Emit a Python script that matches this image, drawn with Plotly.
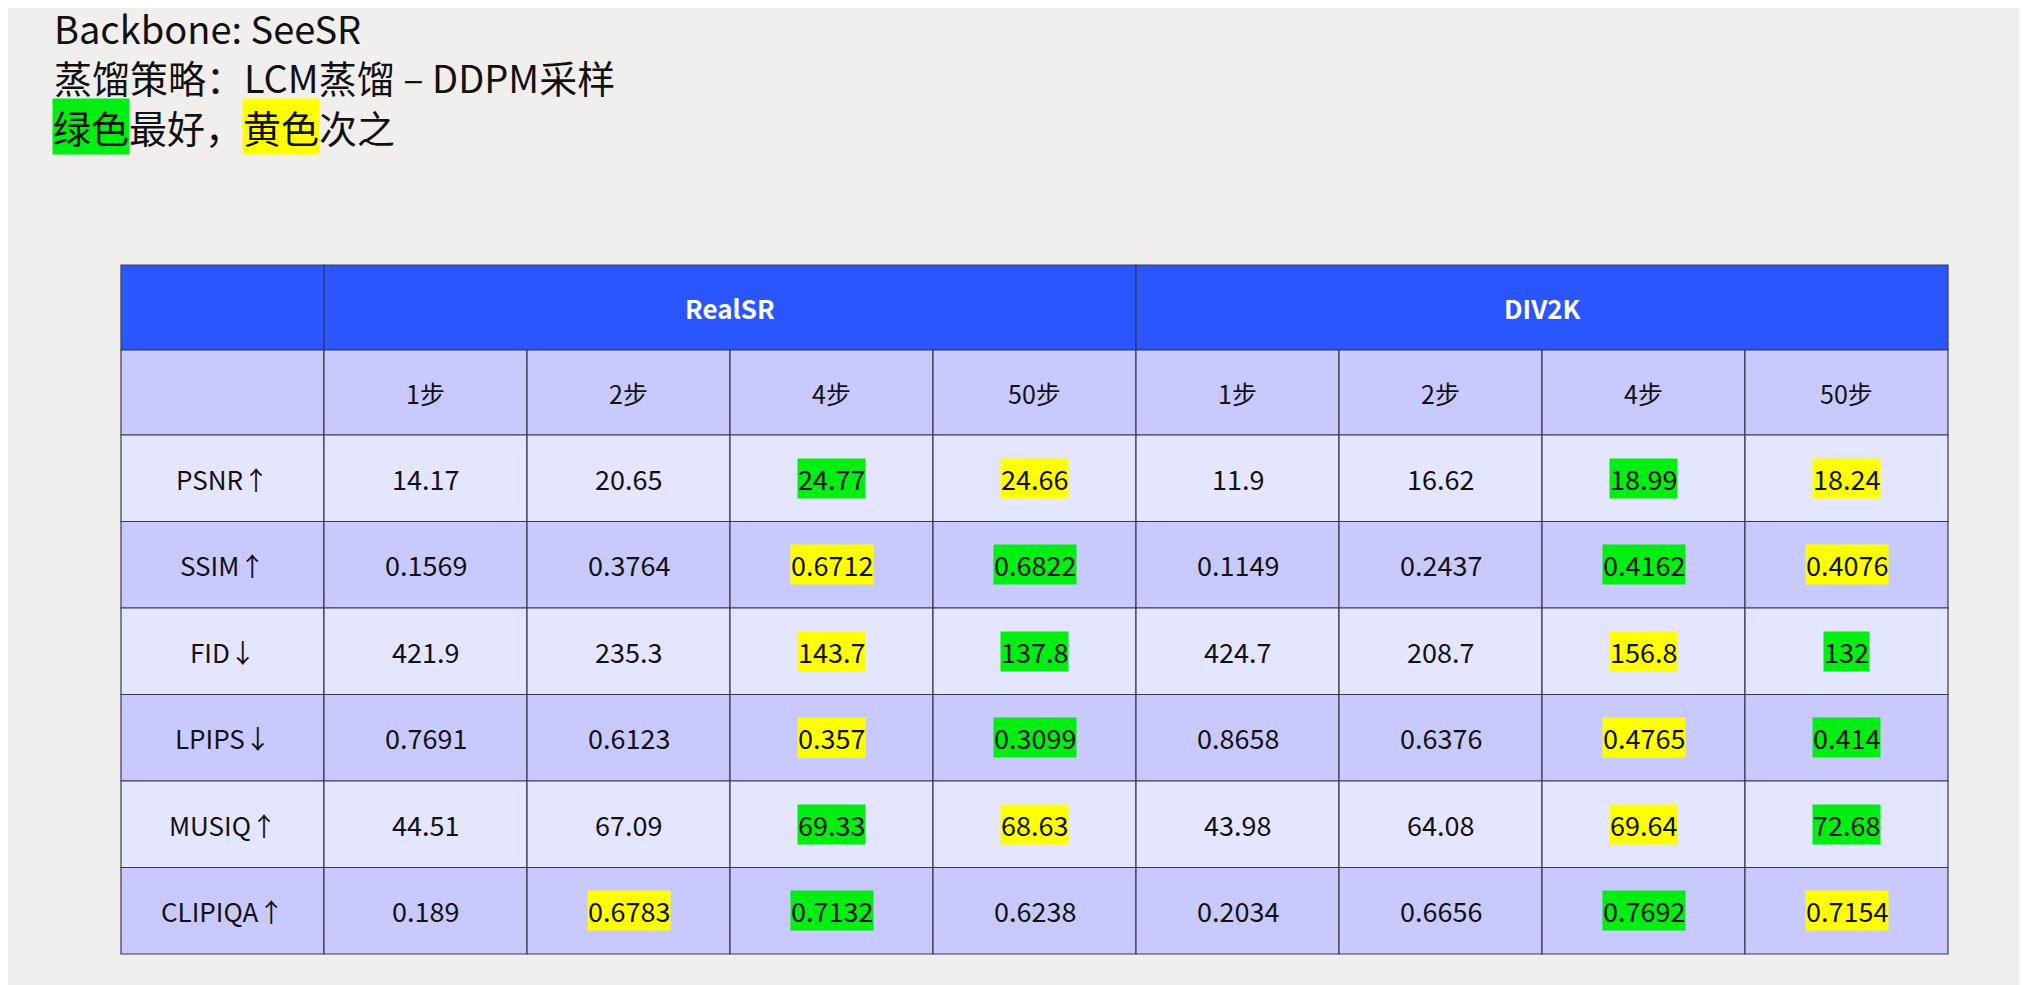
import plotly.graph_objects as go

W, H = 2027, 985

groups = ["RealSR", "DIV2K"]
steps = ["1步", "2步", "4步", "50步"]
metrics = ["PSNR↑", "SSIM↑", "FID↓", "LPIPS↓", "MUSIQ↑", "CLIPIQA↑"]
values = [
    ["14.17", "20.65", "24.77", "24.66", "11.9", "16.62", "18.99", "18.24"],
    ["0.1569", "0.3764", "0.6712", "0.6822", "0.1149", "0.2437", "0.4162", "0.4076"],
    ["421.9", "235.3", "143.7", "137.8", "424.7", "208.7", "156.8", "132"],
    ["0.7691", "0.6123", "0.357", "0.3099", "0.8658", "0.6376", "0.4765", "0.414"],
    ["44.51", "67.09", "69.33", "68.63", "43.98", "64.08", "69.64", "72.68"],
    ["0.189", "0.6783", "0.7132", "0.6238", "0.2034", "0.6656", "0.7692", "0.7154"],
]
# G = best, Y = second, "" = none
marks = [
    ["", "", "G", "Y", "", "", "G", "Y"],
    ["", "", "Y", "G", "", "", "G", "Y"],
    ["", "", "Y", "G", "", "", "Y", "G"],
    ["", "", "Y", "G", "", "", "Y", "G"],
    ["", "", "G", "Y", "", "", "Y", "G"],
    ["", "Y", "G", "", "", "", "G", "Y"],
]
bullets = ["Backbone: SeeSR", "蒸馏策略：LCM蒸馏 – DDPM采样"]

FONT = "Noto Sans CJK SC"
BG = "#F1EFEE"
HEAD = "#2B55FF"
ROW_DARK = "#C8CAFF"
ROW_LIGHT = "#E4E5FF"
GREEN = "#00EE11"
YELLOW = "#FFFF00"
LINE = "#3A3A4A"

left, top = 121, 265
first_w, col_w = 203, 203
head_h, row_h = 85, 86.5

xs = [left, left + first_w] + [left + first_w + col_w * (i + 1) for i in range(8)]
ys = [top, top + head_h, top + 2 * head_h] + [top + 2 * head_h + row_h * (i + 1) for i in range(6)]

fig = go.Figure()
shapes, ann = [], []

def rect(x0, x1, y0, y1, fill):
    shapes.append(dict(type="rect", x0=x0, x1=x1, y0=y0, y1=y1, fillcolor=fill,
                       line=dict(color=LINE, width=1.2), layer="below"))

def text(x, y, t, size=26, color="#111", bold=False, bg=None):
    ann.append(dict(x=x, y=y, text=f"<b>{t}</b>" if bold else t, showarrow=False,
                    font=dict(family=FONT, size=size, color=color),
                    bgcolor=bg, borderpad=0))

# header rows
rect(xs[0], xs[1], ys[0], ys[1], HEAD)
for g, name in enumerate(groups):
    rect(xs[1 + 4 * g], xs[5 + 4 * g], ys[0], ys[1], HEAD)
    text((xs[1 + 4 * g] + xs[5 + 4 * g]) / 2, (ys[0] + ys[1]) / 2, name, 26, "white", True)
rect(xs[0], xs[1], ys[1], ys[2], ROW_DARK)
for c in range(8):
    rect(xs[c + 1], xs[c + 2], ys[1], ys[2], ROW_DARK)
    text((xs[c + 1] + xs[c + 2]) / 2, (ys[1] + ys[2]) / 2, steps[c % 4], 25)

for r, m in enumerate(metrics):
    fill = ROW_LIGHT if r % 2 == 0 else ROW_DARK
    y0, y1 = ys[r + 2], ys[r + 3]
    rect(xs[0], xs[1], y0, y1, fill)
    text((xs[0] + xs[1]) / 2, (y0 + y1) / 2, m, 26)
    for c in range(8):
        rect(xs[c + 1], xs[c + 2], y0, y1, fill)
        bg = {"G": GREEN, "Y": YELLOW}.get(marks[r][c])
        text((xs[c + 1] + xs[c + 2]) / 2, (y0 + y1) / 2, values[r][c], 27, bg=bg)

# bullet text
line_y = [27, 76, 126]
for i, b in enumerate(bullets):
    ann.append(dict(x=4, y=line_y[i], text="<b>•</b>", showarrow=False, xanchor="left",
                    font=dict(family="DejaVu Sans", size=30, color="#111")))
    ann.append(dict(x=52, y=line_y[i], text=b, showarrow=False, xanchor="left",
                    font=dict(family=FONT, size=38, color="#111")))
ann.append(dict(x=4, y=line_y[2], text="<b>•</b>", showarrow=False, xanchor="left",
                font=dict(family="DejaVu Sans", size=30, color="#111")))
third = [("绿色", GREEN), ("最好，", None), ("黄色", YELLOW), ("次之", None)]
x = 52
for t, bg in third:
    ann.append(dict(x=x, y=line_y[2], text=t, showarrow=False, xanchor="left", bgcolor=bg, borderpad=0,
                    font=dict(family=FONT, size=38, color="#111")))
    x += 38 * len(t)

fig.update_layout(
    width=W, height=H, margin=dict(l=0, r=0, t=0, b=0),
    paper_bgcolor=BG, plot_bgcolor=BG, showlegend=False,
    xaxis=dict(range=[8, W + 8], visible=False, fixedrange=True),
    yaxis=dict(range=[H + 8, 8], visible=False, fixedrange=True),
    shapes=shapes, annotations=ann,
)
fig.write_html("out.html")
